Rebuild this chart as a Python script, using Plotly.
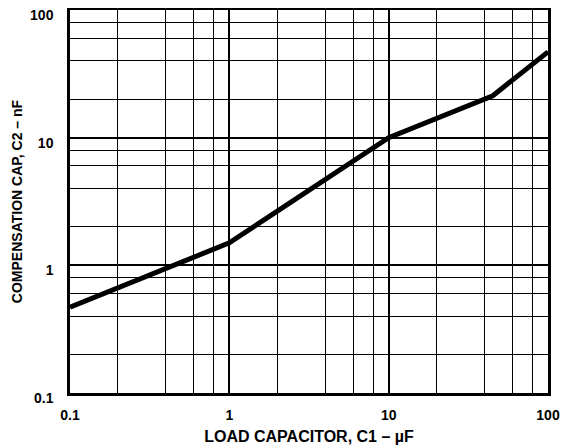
import plotly.graph_objects as go

load_cap_uF = [0.1, 1, 10, 45, 100]
comp_cap_nF = [0.47, 1.5, 10, 21.3, 47]

major_vals = [0.1, 1, 10, 100]
major_text = ["0.1", "1", "10", "100"]
minor_vals = [m * d for d in (0.1, 1, 10) for m in (2, 4, 6, 8)]

FAM = "Liberation Sans, Arial, sans-serif"

fig = go.Figure()
fig.add_trace(go.Scatter(x=load_cap_uF, y=comp_cap_nF, mode="lines",
                         line=dict(color="black", width=5), showlegend=False))

axis_common = dict(
    type="log", showline=True, linecolor="black", linewidth=2.5, mirror=True,
    tickmode="array", tickvals=major_vals, ticktext=major_text,
    showgrid=True, gridcolor="black", gridwidth=1.8, ticks="",
    tickfont=dict(family=FAM, size=14, color="black", weight="bold"),
    ticklabeloverflow="allow",
    minor=dict(tickmode="array", tickvals=minor_vals, showgrid=True,
               gridcolor="black", gridwidth=1.2, ticks=""),
    zeroline=False, automargin=False,
)

# page body has an 8px margin, so figure is sized to fit the 568x446 window
fig.update_layout(
    width=560, height=438,
    margin=dict(l=62, r=20, t=2, b=53),
    paper_bgcolor="white", plot_bgcolor="white",
    font=dict(family=FAM, size=13, color="black"),
    xaxis=dict(axis_common, range=[-1, 2], ticklabelstandoff=7,
               title=dict(text="LOAD CAPACITOR, C1 – µF",
                          font=dict(family=FAM, size=16, weight="bold"), standoff=10)),
    yaxis=dict(axis_common, range=[-1, 2], ticklabelstandoff=11, ticklabelshift=5,
               title=dict(text="COMPENSATION CAP, C2 – nF",
                          font=dict(family=FAM, size=14, weight="bold"), standoff=5)),
)

fig.write_html("out.html")
